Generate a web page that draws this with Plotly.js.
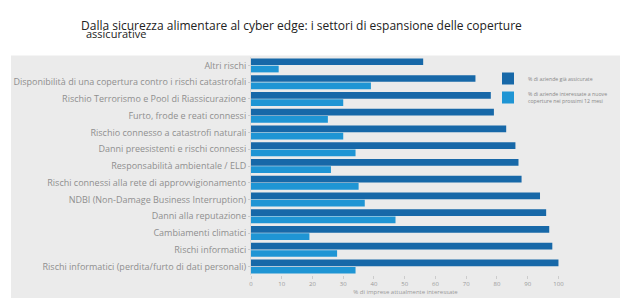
<!DOCTYPE html>
<html>
<head>
<meta charset="utf-8">
<script src="https://cdn.plot.ly/plotly-3.0.1.min.js"></script>
<style>html,body{margin:0;padding:0;background:#fff;}#chart{width:620px;height:298px;}</style>
</head>
<body>
<div id="chart"></div>
<script>
const categories = [
  "Altri rischi",
  "Disponibilità di una copertura contro i rischi catastrofali",
  "Rischio Terrorismo e Pool di Riassicurazione",
  "Furto, frode e reati connessi",
  "Rischio connesso a catastrofi naturali",
  "Danni preesistenti e rischi connessi",
  "Responsabilità ambientale / ELD",
  "Rischi connessi alla rete di approvvigionamento",
  "NDBI (Non-Damage Business Interruption)",
  "Danni alla reputazione",
  "Cambiamenti climatici",
  "Rischi informatici",
  "Rischi informatici (perdita/furto di dati personali)"
];
const seriesNames = [
  "% di aziende già assicurate",
  "% di aziende interessate a nuove<br>coperture nei prossimi 12 mesi"
];
const darkValues  = [56, 73, 78, 79, 83, 86, 87, 88, 94, 96, 97, 98, 100];
const lightValues = [9, 39, 30, 25, 30, 34, 26, 35, 37, 47, 19, 28, 34];
const xTicks = [0, 10, 20, 30, 40, 50, 60, 70, 80, 90, 100];

const L = 251, R = 60, T = 57, B = 23, W = 620, H = 298;
const pw = W - L - R, ph = H - T - B;
const px = v => (v - L) / pw;
const py = v => (H - B - v) / ph;

const traces = [
  {type: 'bar', orientation: 'h', name: seriesNames[0], y: categories, x: darkValues,
   marker: {color: '#1768a8'}, hoverinfo: 'x+y'},
  {type: 'bar', orientation: 'h', name: seriesNames[1], y: categories, x: lightValues,
   marker: {color: '#1f95d4'}, hoverinfo: 'x+y'}
];

const layout = {
  width: W, height: H,
  margin: {l: L, r: R, t: T, b: B, pad: 0, autoexpand: false},
  paper_bgcolor: '#ffffff',
  plot_bgcolor: 'rgba(0,0,0,0)',
  barmode: 'group',
  bargap: 0.13,
  bargroupgap: 0.08,
  font: {family: 'Open Sans, sans-serif', color: '#777'},
  xaxis: {
    range: [0, 100.5],
    tickvals: xTicks,
    ticktext: xTicks.map(String),
    showgrid: false, zeroline: false,
    showline: false,
    ticks: 'outside', ticklen: 3, tickcolor: '#ccc',
    tickfont: {size: 6, color: '#999'},
    title: {text: '% di imprese attualmente interessate', font: {size: 6, color: '#999'}, standoff: 2},
    fixedrange: true
  },
  yaxis: {
    autorange: 'reversed',
    type: 'category',
    showgrid: false, zeroline: false,
    showline: true, linecolor: '#d8d8d8', linewidth: 1,
    ticks: 'outside', ticklen: 2, tickcolor: '#ccc',
    tickfont: {size: 9, color: '#8f8f8f'},
    fixedrange: true
  },
  legend: {
    x: px(488), y: py(64), xanchor: 'left', yanchor: 'top',
    bgcolor: 'rgba(0,0,0,0)',
    font: {size: 5.2, color: '#888'},
    tracegroupgap: 0,
    itemwidth: 30,
    traceorder: 'normal'
  },
  shapes: [
    {type: 'rect', xref: 'paper', yref: 'paper', layer: 'below',
     x0: px(11), x1: px(621), y0: py(299), y1: py(55.5),
     fillcolor: '#ebebeb', line: {width: 0}}
  ],
  annotations: [
    {xref: 'paper', yref: 'paper', x: px(301), y: py(25), xanchor: 'center', yanchor: 'middle',
     text: 'Dalla sicurezza alimentare al cyber edge: i settori di espansione delle coperture',
     showarrow: false, font: {size: 12, color: '#222', family: 'Open Sans, sans-serif'}},
    {xref: 'paper', yref: 'paper', x: px(84), y: py(33.5), xanchor: 'left', yanchor: 'middle',
     text: 'assicurative',
     showarrow: false, font: {size: 11, color: '#222', family: 'Open Sans, sans-serif'}}
  ]
};

Plotly.newPlot('chart', traces, layout, {displayModeBar: false, staticPlot: true});
</script>
</body>
</html>
